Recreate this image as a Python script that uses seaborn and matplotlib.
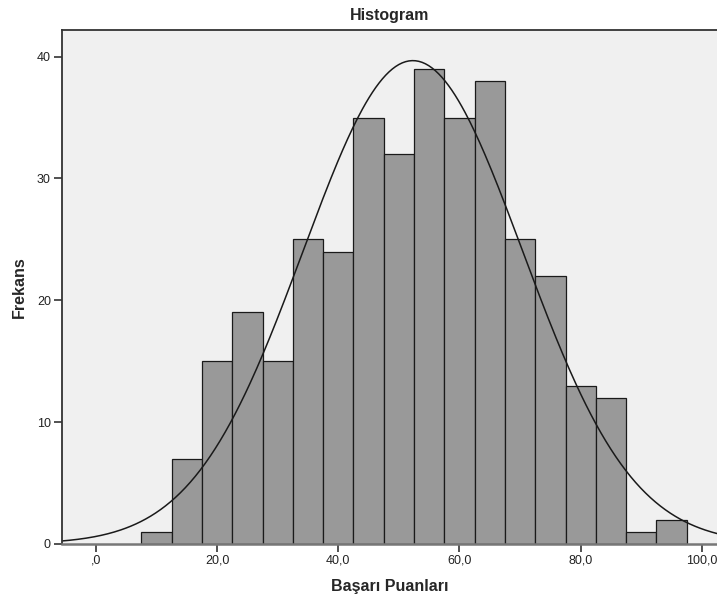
import numpy as np
import pandas as pd
import seaborn as sns
import matplotlib.pyplot as plt

# bin centres and frequencies
bin_centers = [10, 15, 20, 25, 30, 35, 40, 45, 50, 55, 60, 65, 70, 75, 80, 85, 90, 95]
counts = [1, 7, 15, 19, 15, 25, 24, 35, 32, 39, 35, 38, 25, 22, 13, 12, 1, 2]
bin_width = 5.0

# fitted normal curve parameters (estimated)
mean_score = 52.3
sd_score = 18.1

x_ticks = [0, 20, 40, 60, 80, 100]
x_tick_labels = [",0", "20,0", "40,0", "60,0", "80,0", "100,0"]
y_ticks = [0, 10, 20, 30, 40]

sns.set_style("white")
plt.rcParams['font.family'] = ['Liberation Sans', 'DejaVu Sans']

df = pd.DataFrame({"puan": bin_centers, "frekans": counts})
edges = [c - bin_width / 2 for c in bin_centers] + [bin_centers[-1] + bin_width / 2]

fig = plt.figure(figsize=(7.17, 5.97), dpi=100)
ax = fig.add_axes([0.0865, 0.089, 0.9135, 0.861])
ax.set_facecolor("#f0f0f0")

sns.histplot(data=df, x="puan", weights="frekans", bins=edges, ax=ax,
             color="#999999", alpha=1, edgecolor="#1a1a1a", linewidth=0.9)

n_total = sum(counts)
xs = np.linspace(-6, 103, 400)
ys = n_total * bin_width / (sd_score * np.sqrt(2 * np.pi)) * np.exp(-0.5 * ((xs - mean_score) / sd_score) ** 2)
sns.lineplot(x=xs, y=ys, ax=ax, color="#1a1a1a", linewidth=1.1)

ax.set_xlim(-5.6, 102.5)
ax.set_ylim(0, 42.2)
ax.set_xticks(x_ticks)
ax.set_xticklabels(x_tick_labels)
ax.set_yticks(y_ticks)
ax.tick_params(axis="both", bottom=True, left=True, direction="out", length=6, width=1.2,
               color="#333333", labelsize=9, labelcolor="#222222", pad=2)

for side in ["left", "top"]:
    ax.spines[side].set_color("#333333")
    ax.spines[side].set_linewidth(1.3)
ax.spines["bottom"].set_color("#777777")
ax.spines["bottom"].set_linewidth(1.8)
ax.spines["right"].set_visible(False)

ax.set_title("Histogram", fontsize=11.5, fontweight="bold", pad=7)
ax.set_xlabel("Başarı Puanları", fontsize=11.5, fontweight="bold", labelpad=9)
ax.set_ylabel("Frekans", fontsize=11.5, fontweight="bold", labelpad=7)

plt.savefig("out.png", dpi=100)
